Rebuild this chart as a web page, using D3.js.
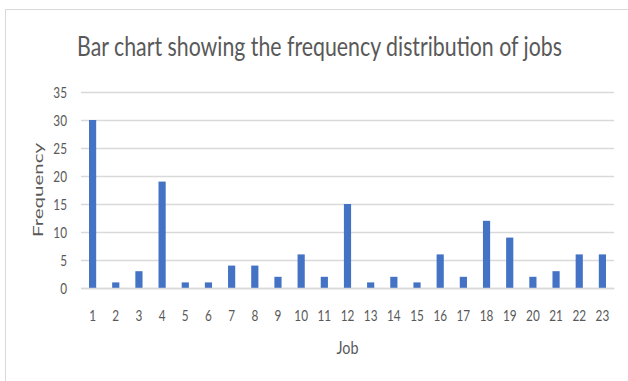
<!DOCTYPE html>
<html>
<head>
<meta charset="utf-8">
<script src="https://cdn.jsdelivr.net/npm/d3@7"></script>
<style>
  html, body { margin: 0; padding: 0; background: #fff; }
  svg { display: block; }
  text { font-family: Lato, "Open Sans", "Noto Sans", sans-serif; fill: #595959; }
</style>
</head>
<body>
<svg id="chart" width="628" height="381"></svg>
<script>
// Job categories and how many times each one occurs
const jobs = ["1","2","3","4","5","6","7","8","9","10","11","12","13","14","15","16","17","18","19","20","21","22","23"];
const frequency = [30, 1, 3, 19, 1, 1, 4, 4, 2, 6, 2, 15, 1, 2, 1, 6, 2, 12, 9, 2, 3, 6, 6];
const yTicks = [0, 5, 10, 15, 20, 25, 30, 35];

const titleText = "Bar chart showing the frequency distribution of jobs";
const xTitle = "Job";
const yTitle = "Frequency";

const W = 628, H = 381;
const plot = { left: 81, right: 614, top: 92, bottom: 288 };
const squeeze = 0.76; // narrow, Calibri-like lettering

const svg = d3.select("#chart");

// chart frame
svg.append("rect")
  .attr("x", 5.5).attr("y", 9.5)
  .attr("width", W).attr("height", H)
  .attr("fill", "#fff")
  .attr("stroke", "#d9d9d9").attr("stroke-width", 1);

const x = d3.scaleBand()
  .domain(jobs)
  .range([plot.left, plot.right])
  .paddingInner(0.69)
  .paddingOuter(0.345);

const y = d3.scaleLinear()
  .domain([0, 35])
  .range([plot.bottom, plot.top]);

// horizontal gridlines + y tick labels
const yAxis = d3.axisLeft(y)
  .tickValues(yTicks)
  .tickSize(-(plot.right - plot.left))
  .tickPadding(14)
  .tickFormat(d3.format("d"));

const gy = svg.append("g")
  .attr("transform", `translate(${plot.left},0)`)
  .call(yAxis);
gy.select(".domain").remove();
gy.selectAll(".tick line")
  .attr("stroke", "#d9d9d9")
  .attr("stroke-width", 1.6);
gy.selectAll(".tick text")
  .attr("font-size", 15.5)
  .attr("fill", "#595959")
  .attr("x", -14 / squeeze)
  .attr("dy", "0.36em")
  .attr("transform", `scale(${squeeze},1)`);

// bars
svg.append("g")
  .selectAll("rect")
  .data(jobs.map((j, i) => ({ job: j, value: frequency[i] })))
  .join("rect")
  .attr("x", d => x(d.job))
  .attr("y", d => y(d.value))
  .attr("width", x.bandwidth())
  .attr("height", d => y(0) - y(d.value))
  .attr("fill", "#4472c4");

// category axis
const xAxis = d3.axisBottom(x).tickSize(0).tickPadding(0);
const gx = svg.append("g")
  .attr("transform", `translate(0,${plot.bottom})`)
  .call(xAxis);
gx.select(".domain")
  .attr("stroke", "#d9d9d9")
  .attr("stroke-width", 1.6);
gx.selectAll(".tick text")
  .attr("font-size", 15.5)
  .attr("fill", "#595959")
  .attr("y", 33)
  .attr("dy", 0)
  .attr("transform", `scale(${squeeze},1)`)
  .attr("x", 0);

// A text narrowed horizontally so that it spans `width` pixels on screen.
function fittedText(str, size, cx, cy, width, rotate) {
  const t = svg.append("text")
    .attr("text-anchor", "middle")
    .attr("font-size", size)
    .text(str);
  const natural = t.node().getComputedTextLength();
  const sx = width / natural;
  if (rotate) {
    // rotated text: its length runs vertically, its glyph height is squeezed
    const sy = width / natural;
    t.attr("transform", `translate(${cx},${cy}) scale(${squeeze},${sy}) rotate(-90)`);
  } else {
    t.attr("transform", `translate(${cx},${cy}) scale(${sx},1)`);
  }
  return t;
}

// chart title
fittedText(titleText, 27, 319.5, 56, 485, false);

// axis titles
fittedText(xTitle, 18, 347.5, 354, 22, false);
fittedText(yTitle, 18, 43, 190, 94, true);
</script>
</body>
</html>
